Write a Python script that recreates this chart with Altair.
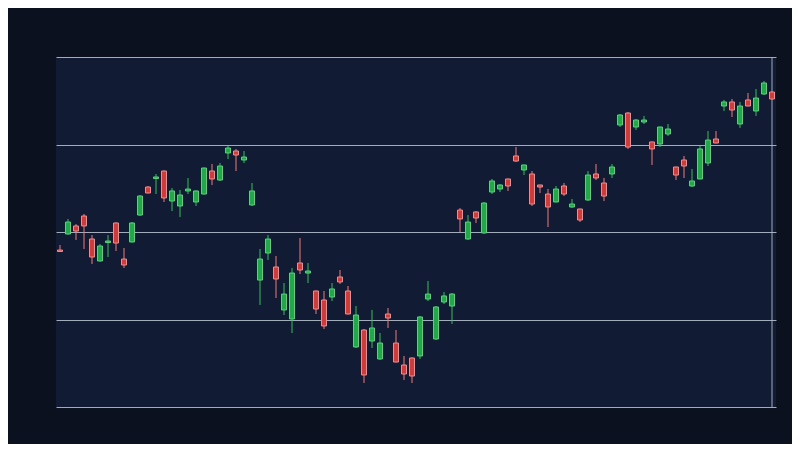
import altair as alt
import pandas as pd

# candle index (trading sessions)
idx = list(range(90))

opens = [117.94, 119.77, 120.69, 121.83, 119.20, 116.69, 118.80, 121.03, 116.91, 118.86,
         121.94, 125.14, 126.11, 126.97, 123.54, 122.97, 124.69, 123.43, 124.34, 126.97,
         125.94, 129.03, 129.26, 128.23, 123.09, 114.51, 117.60, 116.00, 111.09, 110.06,
         116.46, 115.31, 113.26, 112.23, 112.57, 114.86, 113.26, 106.86, 108.80, 107.54,
         105.49, 110.63, 107.31, 104.80, 105.60, 105.83, 112.34, 107.77, 112.00, 111.54,
         122.51, 119.20, 122.29, 119.89, 124.57, 124.91, 126.06, 128.69, 127.09, 126.63,
         125.37, 124.34, 123.43, 125.26, 122.86, 122.63, 123.66, 126.63, 125.60, 126.63,
         132.23, 133.60, 132.00, 132.57, 130.29, 130.06, 131.20, 127.43, 128.23, 125.26,
         126.06, 127.89, 130.63, 134.40, 134.86, 132.34, 135.09, 133.83, 135.77, 136.00]

highs = [118.51, 121.49, 120.91, 122.06, 119.66, 118.63, 119.66, 121.10, 118.17, 121.14,
         124.23, 125.26, 126.63, 127.03, 125.03, 124.80, 126.17, 124.75, 127.37, 127.77,
         127.89, 129.83, 129.49, 129.26, 125.60, 118.06, 119.66, 117.26, 114.17, 115.89,
         119.31, 116.46, 113.30, 113.26, 114.17, 115.66, 113.83, 111.54, 108.91, 111.09,
         108.46, 111.31, 108.80, 105.83, 105.66, 110.40, 114.40, 111.54, 113.14, 113.03,
         122.74, 121.94, 122.40, 123.43, 126.06, 125.49, 126.10, 129.71, 127.70, 126.97,
         125.40, 124.91, 125.26, 125.60, 123.77, 122.66, 126.97, 127.77, 126.17, 127.77,
         133.49, 133.71, 132.91, 133.26, 130.32, 132.03, 132.34, 127.46, 128.69, 127.20,
         129.83, 131.54, 131.54, 135.09, 135.20, 134.86, 135.89, 136.34, 137.26, 136.03]

lows = [117.71, 119.70, 119.09, 118.06, 116.34, 116.60, 117.14, 117.83, 115.89, 118.80,
        121.83, 124.40, 124.34, 123.43, 122.40, 121.71, 124.34, 122.97, 124.30, 125.37,
        125.83, 128.34, 126.97, 127.89, 122.97, 111.66, 116.80, 112.46, 110.51, 108.46,
        115.20, 114.17, 110.63, 108.91, 112.11, 114.06, 110.57, 106.74, 102.74, 106.74,
        105.37, 109.03, 105.10, 103.09, 102.74, 105.49, 112.11, 107.66, 111.77, 109.49,
        120.00, 119.09, 121.03, 119.77, 124.34, 124.57, 124.69, 128.00, 126.51, 122.97,
        124.46, 120.57, 123.40, 124.11, 122.74, 121.14, 123.54, 125.94, 123.54, 126.17,
        132.00, 129.49, 131.66, 132.34, 127.66, 129.71, 130.97, 125.94, 126.17, 125.14,
        126.03, 127.54, 130.14, 133.83, 133.14, 131.89, 134.37, 133.26, 135.66, 135.17]

closes = [117.77, 121.14, 120.11, 120.69, 117.14, 118.40, 118.97, 118.74, 116.23, 121.03,
          124.11, 124.46, 126.29, 123.89, 124.69, 124.23, 124.91, 124.69, 127.31, 126.06,
          127.54, 129.60, 128.80, 128.57, 124.69, 116.91, 119.20, 114.63, 112.91, 115.31,
          115.66, 115.54, 111.20, 109.26, 113.49, 114.29, 110.63, 110.51, 103.66, 109.03,
          107.31, 110.17, 105.14, 103.77, 103.54, 110.29, 112.91, 111.43, 112.69, 112.91,
          121.49, 121.14, 121.60, 123.31, 125.83, 125.37, 125.26, 128.11, 127.66, 123.20,
          125.14, 122.86, 124.91, 124.34, 123.20, 121.37, 126.51, 126.17, 124.11, 127.43,
          133.37, 129.71, 132.80, 132.80, 129.49, 132.00, 131.77, 126.51, 127.54, 125.83,
          129.49, 130.51, 130.17, 134.86, 133.94, 134.40, 134.40, 135.31, 137.03, 135.20]

grid_values = [100, 110, 120, 130, 140]

df = pd.DataFrame({"i": idx, "open": opens, "high": highs, "low": lows, "close": closes})
df["dir"] = ["up" if c >= o else "down" for o, c in zip(opens, closes)]

xs = alt.Scale(domain=[-0.5, 89.5], nice=False, zero=False, padding=0)
ys = alt.Scale(domain=[100, 140], nice=False, zero=False, padding=0)

x_enc = alt.X("i:Q", scale=xs, axis=None)

wick = alt.Chart(df).mark_rule(strokeWidth=1).encode(
    x=x_enc,
    y=alt.Y("low:Q", scale=ys,
            axis=alt.Axis(values=grid_values, labels=False, ticks=False, domain=False,
                          grid=True, gridColor="#b3bccb", gridWidth=1, gridOpacity=0.9, title=None)),
    y2="high:Q",
    stroke=alt.Stroke("dir:N", scale=alt.Scale(domain=["up", "down"], range=["#2fc25e", "#f07b7b"]), legend=None),
)

body = alt.Chart(df).mark_bar(size=5, strokeWidth=1).encode(
    x=x_enc,
    y=alt.Y("open:Q", scale=ys),
    y2="close:Q",
    fill=alt.Fill("dir:N", scale=alt.Scale(domain=["up", "down"], range=["#22a84a", "#d03c3c"]), legend=None),
    stroke=alt.Stroke("dir:N", scale=alt.Scale(domain=["up", "down"], range=["#58d27d", "#f08c8c"]), legend=None),
)

edge = alt.Chart(pd.DataFrame({"i": [89]})).mark_rule(color="#b3bccb", strokeWidth=1, opacity=0.9).encode(
    x=x_enc,
)

chart = alt.layer(wick, edge, body).resolve_scale(stroke="independent").properties(
    width=720, height=350,
    background="#0b111f",
    padding={"left": 48, "top": 48, "right": 16, "bottom": 36},
).configure_view(fill="#111b33", stroke=None)

chart.save("out.html", embed_options={"renderer": "svg", "actions": False})
